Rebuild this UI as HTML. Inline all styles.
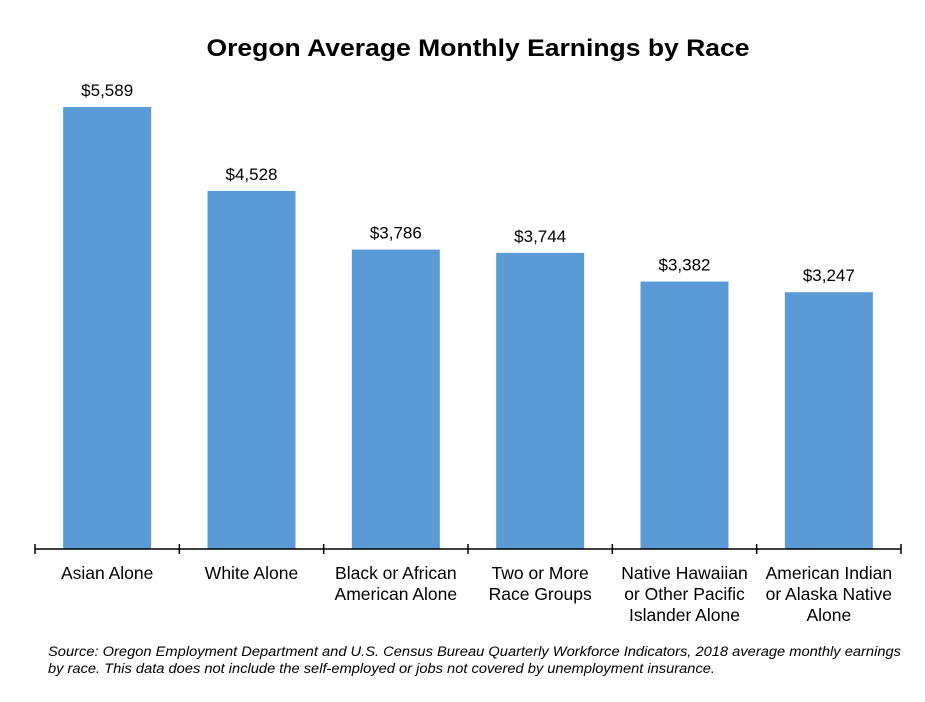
<!DOCTYPE html>
<html><head><meta charset="utf-8"><style>
body{margin:0;background:#fff;}
svg{display:block;font-family:"Liberation Sans",Arial,sans-serif;}
</style></head><body>
<svg id="chart" width="925" height="702">
<text x="478" y="56" text-anchor="middle" font-size="24" font-weight="bold" fill="#000" textLength="543" lengthAdjust="spacingAndGlyphs">Oregon Average Monthly Earnings by Race</text>
<g id="bars"></g>
<g id="axis"></g>
<text x="48" y="656" font-size="13.5" font-style="italic" fill="#000" textLength="853" lengthAdjust="spacingAndGlyphs">Source: Oregon Employment Department and U.S. Census Bureau Quarterly Workforce Indicators, 2018 average monthly earnings</text>
<text x="48" y="673" font-size="13.5" font-style="italic" fill="#000" textLength="667" lengthAdjust="spacingAndGlyphs">by race. This data does not include the self-employed or jobs not covered by unemployment insurance.</text>
</svg>
<script>
const categories=[["Asian Alone"],["White Alone"],["Black or African","American Alone"],["Two or More","Race Groups"],["Native Hawaiian","or Other Pacific","Islander Alone"],["American Indian","or Alaska Native","Alone"]];
const values=[5589,4528,3786,3744,3382,3247];
const valueLabels=["$5,589","$4,528","$3,786","$3,744","$3,382","$3,247"];
const NS="http://www.w3.org/2000/svg";
const x0=35,x1=901,base=549,pxPer=(549-107)/5589;
const bw=(x1-x0)/categories.length, barW=88;
function xScale(i){return x0+bw*i+bw/2;}
function yScale(v){return base-v*pxPer;}
const bars=document.getElementById('bars'),axis=document.getElementById('axis');
function mk(t,a,p){const e=document.createElementNS(NS,t);for(const k in a)e.setAttribute(k,a[k]);p.appendChild(e);return e;}
values.forEach((v,i)=>{
 const cx=xScale(i),y=yScale(v);
 const r=mk('rect',{x:cx-barW/2,y:y,width:barW,height:base-y,fill:'#5b9bd5'},bars);
 
 
 const t=mk('text',{x:cx,y:y-11,'text-anchor':'middle','font-size':17,fill:'#000'},bars);
 t.textContent=valueLabels[i];
 
 
 categories[i].forEach((ln,j)=>{
  const c=mk('text',{x:cx,y:579+j*21,'text-anchor':'middle','font-size':17.5,fill:'#000'},axis);
  c.textContent=ln;
  
  
 });
});
const l=mk('line',{x1:x0,x2:x1,y1:base,y2:base,stroke:'#000','stroke-width':1.5},axis);


for(let i=0;i<=categories.length;i++){
 const x=x0+bw*i;
 const tk=mk('line',{x1:x,x2:x,y1:base-5,y2:base+5,stroke:'#000','stroke-width':1.5},axis);
 
 
}
</script>
</body></html>
